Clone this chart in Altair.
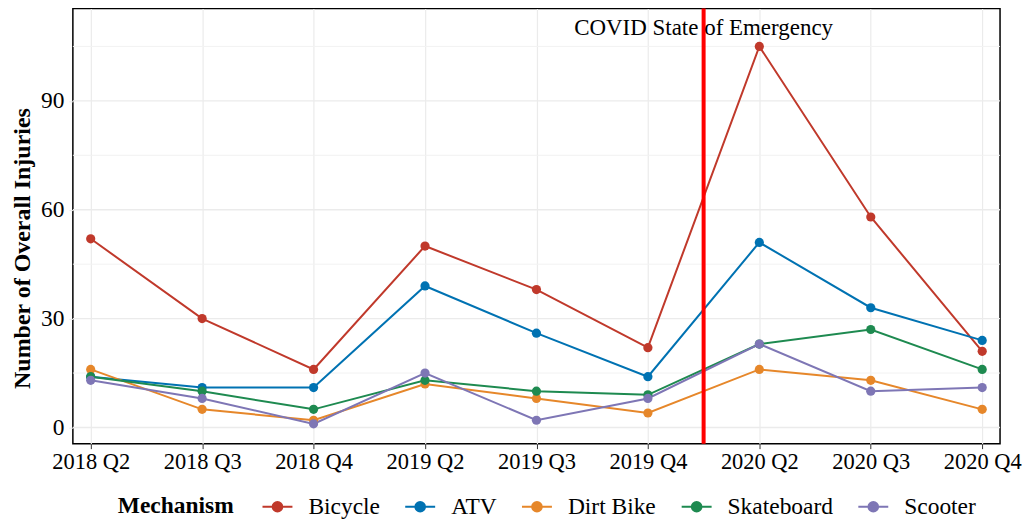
import altair as alt
import pandas as pd

quarters = ["2018 Q2", "2018 Q3", "2018 Q4", "2019 Q2", "2019 Q3", "2019 Q4", "2020 Q2", "2020 Q3", "2020 Q4"]
mechanisms = ["Bicycle", "ATV", "Dirt Bike", "Skateboard", "Scooter"]
colors = ["#C0392B", "#0072B2", "#E6872A", "#1E8A50", "#7E76B5"]

bicycle = [52, 30, 16, 50, 38, 22, 105, 58, 21]
atv = [14, 11, 11, 39, 26, 14, 51, 33, 24]
dirt_bike = [16, 5, 2, 12, 8, 4, 16, 13, 5]
skateboard = [14, 10, 5, 13, 10, 9, 23, 27, 16]
scooter = [13, 8, 1, 15, 2, 8, 23, 10, 11]

covid_pos = 5.5
covid_label = "COVID State of Emergency"
covid_y = 110

series = [bicycle, atv, dirt_bike, skateboard, scooter]
rows = []
for m, vals in zip(mechanisms, series):
    for i, (q, v) in enumerate(zip(quarters, vals)):
        rows.append({"idx": i, "quarter": q, "Mechanism": m, "value": v})
df = pd.DataFrame(rows)

font = "Liberation Serif"
label_expr = "[" + ",".join("'" + q + "'" for q in quarters) + "][datum.value]"

x_scale = alt.Scale(domain=[-0.16, 8.16], nice=False, zero=False)
y_scale = alt.Scale(domain=[-4.45, 115.45], nice=False, zero=False)

x_enc = alt.X("idx:Q", scale=x_scale,
              axis=alt.Axis(values=list(range(len(quarters))), labelExpr=label_expr,
                            title=None, grid=True, gridColor="#EBEBEB", gridWidth=1.2,
                            tickColor="#333333", tickSize=5, labelPadding=2,
                            labelFontSize=22.5, labelFont=font, labelColor="#000000",
                            domain=False))
y_enc = alt.Y("value:Q", scale=y_scale,
              axis=alt.Axis(values=[0, 30, 60, 90], title="Number of Overall Injuries",
                            titleFont=font, titleFontSize=24, titleFontWeight="bold",
                            titleColor="#000000", titlePadding=6, titleY=240,
                            labelFont=font, labelFontSize=23.5, labelColor="#000000",
                            grid=False, tickColor="#EBEBEB", tickSize=4, labelPadding=5,
                            domain=False))

legend = alt.Legend(orient="none", legendX=45, legendY=486,
                    direction="horizontal", title="Mechanism",
                    titleFont=font, titleFontSize=23.5, titleFontWeight="bold",
                    titleColor="#000000", titleOrient="left", titleBaseline="middle",
                    titlePadding=30, padding=0,
                    labelFont=font, labelFontSize=23.5, labelColor="#000000",
                    symbolType="M-1.25,0H1.25M-0.4,0A0.4,0.4 0 1,1 0.4,0A0.4,0.4 0 1,1 -0.4,0Z",
                    symbolSize=576, symbolStrokeWidth=2,
                    columnPadding=21, labelOffset=18)

color_enc = alt.Color("Mechanism:N", scale=alt.Scale(domain=mechanisms, range=colors),
                      sort=mechanisms, legend=legend)

minor_grid = alt.Chart(pd.DataFrame({"v": [15, 45, 75, 105]})).mark_rule(
    color="#F2F2F2", strokeWidth=1).encode(y=alt.Y("v:Q", scale=y_scale))
major_grid = alt.Chart(pd.DataFrame({"v": [0, 30, 60, 90]})).mark_rule(
    color="#EBEBEB", strokeWidth=1.4).encode(y=alt.Y("v:Q", scale=y_scale))

lines = alt.Chart(df).mark_line(strokeWidth=2).encode(
    x=x_enc, y=y_enc, color=color_enc, detail="Mechanism:N")
points = alt.Chart(df).mark_point(filled=True, size=85, opacity=1).encode(
    x=alt.X("idx:Q", scale=x_scale), y=alt.Y("value:Q", scale=y_scale),
    color=alt.Color("Mechanism:N", scale=alt.Scale(domain=mechanisms, range=colors), legend=None))

vline = alt.Chart(pd.DataFrame({"x": [covid_pos]})).mark_rule(
    color="#FF0000", strokeWidth=4).encode(x=alt.X("x:Q", scale=x_scale))
label = alt.Chart(pd.DataFrame({"x": [covid_pos], "y": [covid_y], "t": [covid_label]})).mark_text(
    font=font, fontSize=23, color="#000000", align="center", baseline="middle").encode(
    x=alt.X("x:Q", scale=x_scale), y=alt.Y("y:Q", scale=y_scale), text="t:N")

chart = alt.layer(minor_grid, major_grid, lines, points, vline, label).properties(
    width=929, height=436, background="white",
    autosize=alt.AutoSizeParams(type="none"),
    padding={"left": 65, "top": 0, "right": 22, "bottom": 77}
).configure_view(stroke="#000000", strokeWidth=1.5)

chart.save("out.html", embed_options={"renderer": "svg", "actions": False})
